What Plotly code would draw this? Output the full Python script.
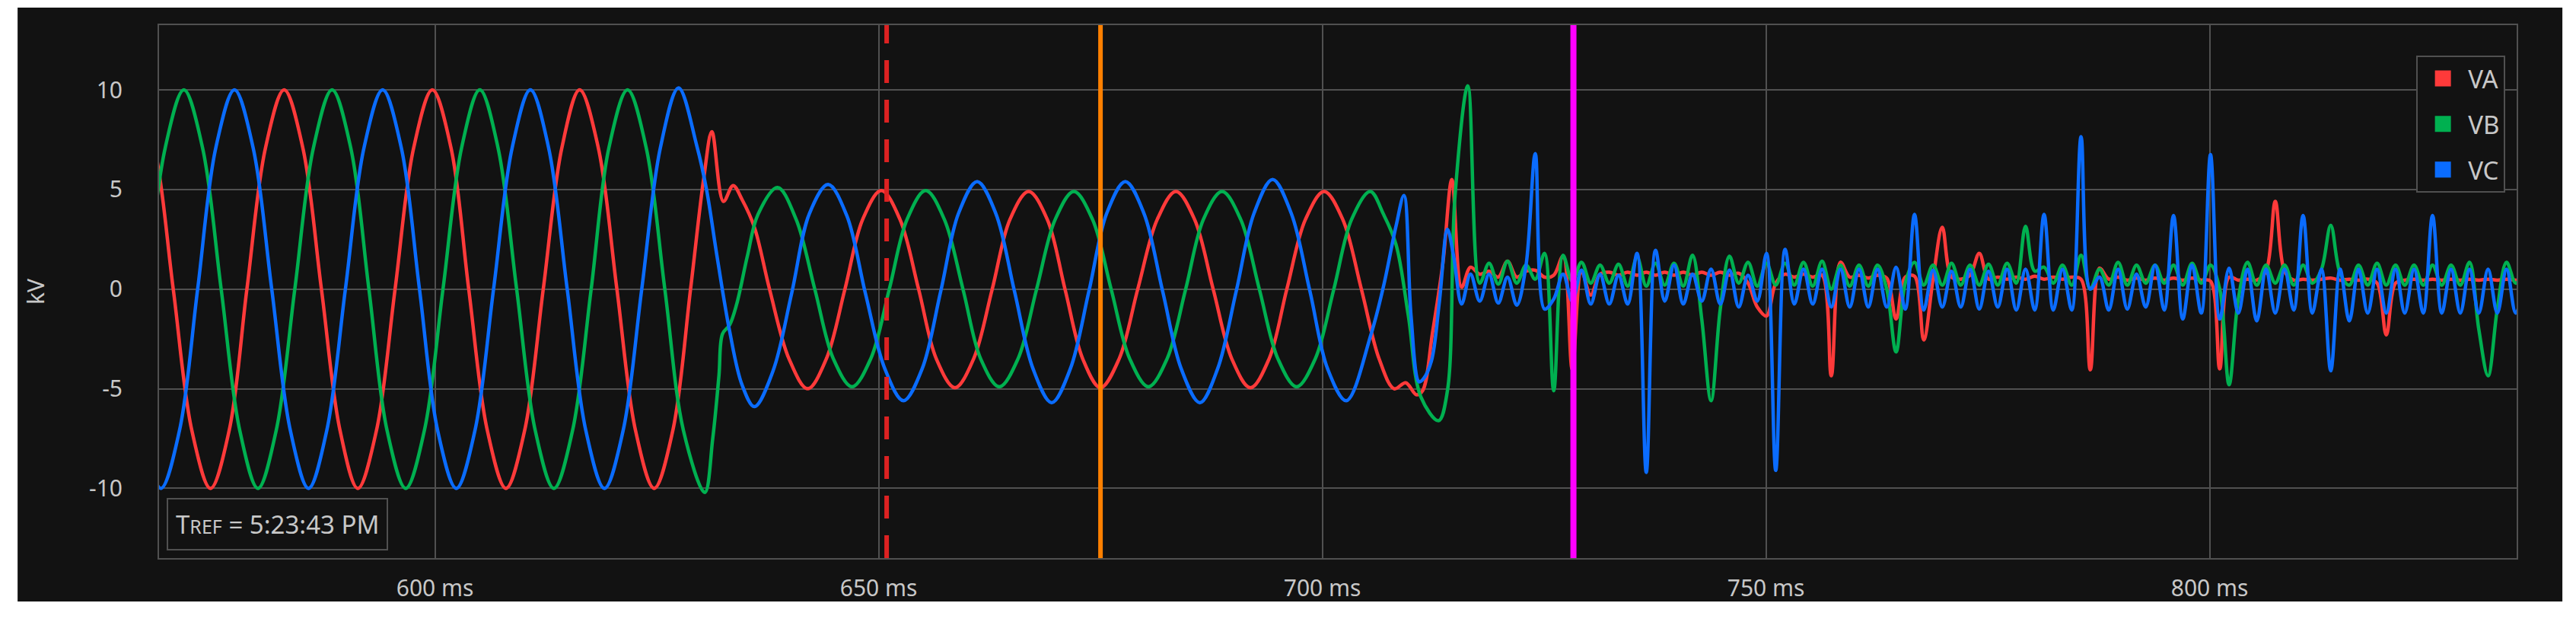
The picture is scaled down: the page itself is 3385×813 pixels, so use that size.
import plotly.graph_objects as go

# ---------------- data ----------------
# Phase A (VA) pre-fault, fault and transient samples: time (ms), value (kV)
va_pre_t = [566.3, 568.4, 570.5, 572.6, 574.7, 576.8, 578.8, 580.9, 583.0, 585.1, 587.2, 589.3, 591.3, 593.4,
            595.5, 597.6, 599.7, 601.8, 603.8, 605.9, 608.0, 610.1, 612.2, 614.3, 616.3, 618.4, 620.5, 622.6,
            624.7, 626.8, 628.8, 630.3, 631.2, 632.5, 633.6, 634.6, 636.0, 637.7, 639.9, 642.0, 644.1, 646.2,
            648.2, 650.3, 652.4, 654.5, 656.5, 658.6, 660.7, 662.8, 664.8, 666.9, 669.0, 671.0, 673.0, 675.0,
            677.1, 679.2, 681.4, 683.5, 685.6, 687.7, 689.8, 691.9, 694.0, 696.0, 698.1, 700.2, 702.3, 704.4,
            706.4, 708.1, 709.4, 710.6, 711.3, 712.4, 713.6, 714.6, 715.7]
va_pre_v = [10, 7.1, 0, -7.1, -10, -7.1, 0, 7.1, 10, 7.1, 0, -7.1, -10, -7.1,
            0, 7.1, 10, 7.1, 0, -7.1, -10, -7.1, 0, 7.1, 10, 7.1, 0, -7.1,
            -10, -7.1, 0, 5.6, 7.9, 4.4, 5.2, 4.5, 3.1, 0, -3.5, -5.0, -3.5, 0,
            3.5, 4.95, 3.5, 0, -3.5, -4.95, -3.5, 0, 3.5, 4.9, 3.5, 0, -3.5, -4.95,
            -3.5, 0, 3.5, 4.9, 3.5, 0, -3.5, -4.95, -3.5, 0, 3.5, 4.9, 3.5, 0,
            -3.5, -5.0, -4.7, -5.3, -5.1, -2.25, 1.35, 5.5, 0.1]

# Phase B (VB)
vb_pre_t = [567.55, 569.6, 571.7, 573.8, 575.9, 578.0, 580.05, 582.1, 584.2, 586.3, 588.4, 590.5, 592.55,
            594.6, 596.7, 598.8, 600.9, 603.0, 605.05, 607.1, 609.2, 611.3, 613.4, 615.5, 617.6, 619.6,
            621.7, 623.8, 625.9, 628.0, 630.4, 631.3, 632.0, 632.4, 633.2, 634.0, 635.2, 636.4, 638.6,
            640.7, 642.8, 644.9, 647.0, 649.1, 651.2, 653.2, 655.3, 657.4, 659.5, 661.5, 663.6, 665.7,
            667.8, 669.9, 672.0, 674.1, 676.2, 678.3, 680.4, 682.5, 684.6, 686.6, 688.7, 690.8, 692.9,
            695.0, 697.1, 699.2, 701.3, 703.3, 705.4, 706.9, 708.3, 709.7, 711.1, 713.1, 714.1, 714.95, 716.4]
vb_pre_v = [0, 7.1, 10, 7.1, 0, -7.1, -10, -7.1, 0, 7.1, 10, 7.1, 0,
            -7.1, -10, -7.1, 0, 7.1, 10, 7.1, 0, -7.1, -10, -7.1, 0, 7.1,
            10, 7.1, 0, -7.1, -10.2, -7.5, -4.35, -2.25, -1.8, -0.75, 1.65, 3.75, 5.1,
            3.5, 0, -3.5, -4.9, -3.5, 0, 3.5, 4.95, 3.5, 0, -3.5, -4.9, -3.5,
            0, 3.5, 4.9, 3.5, 0, -3.5, -4.9, -3.5, 0, 3.5, 4.9, 3.5, 0,
            -3.5, -4.9, -3.5, 0, 3.5, 4.9, 3.75, 2.25, -1.35, -5.4, -6.6, -5.1, 4.65, 10.2]

# Phase C (VC)
vc_pre_t = [567.0, 569.1, 571.2, 573.25, 575.3, 577.4, 579.5, 581.6, 583.7, 585.75, 587.8, 589.9, 592.0,
            594.1, 596.2, 598.25, 600.3, 602.4, 604.5, 606.6, 608.7, 610.75, 612.8, 614.9, 617.0, 619.1,
            621.2, 623.3, 625.4, 627.45, 629.5, 630.6, 631.8, 633.2, 634.6, 636.0, 638.1, 640.2, 642.2,
            644.3, 646.4, 648.5, 650.7, 652.8, 654.9, 657.0, 659.0, 661.1, 663.2, 665.3, 667.4, 669.5,
            671.6, 673.7, 675.7, 677.8, 679.9, 682.0, 684.1, 686.2, 688.2, 690.3, 692.3, 694.4, 696.5,
            698.6, 700.6, 702.7, 705.5, 706.9, 708.3, 709.2, 710.0, 710.9, 711.4, 712.3, 713.2, 714.1,
            714.8, 715.7]
vc_pre_v = [-7.1, -10, -7.1, 0, 7.1, 10, 7.1, 0, -7.1, -10, -7.1, 0, 7.1,
            10, 7.1, 0, -7.1, -10, -7.1, 0, 7.1, 10, 7.1, 0, -7.1, -10,
            -7.1, 0, 7.1, 10.1, 7.2, 5.0, 1.6, -2.1, -4.8, -5.9, -4.1, -0.2, 3.8,
            5.25, 3.7, -0.2, -4.0, -5.6, -4.0, -0.1, 3.8, 5.4, 3.8, -0.1, -4.0, -5.7,
            -4.0, -0.1, 3.8, 5.4, 3.8, -0.1, -4.0, -5.7, -4.0, -0.1, 3.8, 5.5, 3.8,
            -0.1, -4.0, -5.6, -2.25, 0.15, 3.15, 4.7, -1.35, -4.65, -4.5, -3.6, -0.6, 3.0,
            1.65, -0.75]

# Post-trip ripple sample instants (ms), shared by the three phases
t_post = [716.70, 717.74, 718.79, 719.83, 720.87, 721.91, 722.96, 724.00, 725.04, 726.08,
          727.13, 728.17, 729.21, 730.25, 731.30, 732.34, 733.38, 734.42, 735.47, 736.51,
          737.55, 738.59, 739.64, 740.68, 741.72, 742.76, 743.81, 744.85, 745.89, 746.93,
          747.98, 749.02, 750.06, 751.10, 752.15, 753.19, 754.23, 755.27, 756.32, 757.36,
          758.40, 759.44, 760.49, 761.53, 762.57, 763.61, 764.66, 765.70, 766.74, 767.78,
          768.83, 769.87, 770.91, 771.95, 773.00, 774.04, 775.08, 776.12, 777.17, 778.21,
          779.25, 780.29, 781.34, 782.38, 783.42, 784.46, 785.51, 786.55, 787.59, 788.63,
          789.68, 790.72, 791.76, 792.80, 793.85, 794.89, 795.93, 796.97, 798.02, 799.06,
          800.10, 801.14, 802.19, 803.23, 804.27, 805.31, 806.36, 807.40, 808.44, 809.48,
          810.53, 811.57, 812.61, 813.65, 814.70, 815.74, 816.78, 817.82, 818.87, 819.91,
          820.95, 821.99, 823.04, 824.08, 825.12, 826.16, 827.21, 828.25, 829.29, 830.33,
          831.38, 832.42, 833.46, 834.50, 835.55]

va_post = [1.1, 0.75, 0.9, 0.6, 1.4, 0.6, 0.9, 0.95, 0.6, 0.7,
           1.65, -4.05, 0.9, -0.3, 0.75, 0.85, 0.7, 0.85, 0.7, 0.85,
           0.7, 0.85, 0.7, 0.85, 0.7, 0.85, 0.7, 0.85, 0.7, 0.8,
           0.3, -0.9, -1.35, 0.3, 0.75, 0.6, 0.75, 0.6, 0.7, -4.35,
           1.35, 0.6, 0.7, 0.55, 0.7, 0.55, -1.5, 0.6, 0.65, -2.55,
           0.5, 3.1, 0.6, 0.5, 0.7, 1.8, 0.5, 0.6, 0.5, 0.6,
           0.5, 0.65, 0.5, 0.6, 0.5, 0.6, 0.5, -4.05, 1.05, 0.5,
           0.6, 0.45, 0.55, 0.45, 0.55, 0.45, 0.55, 0.45, 0.55, 0.45,
           0.4, -4.0, 0.6, 0.45, 0.5, 0.45, 0.9, 4.4, 0.9, 0.45,
           0.5, 0.45, 0.5, 0.55, 0.45, 0.5, 0.45, 0.5, 0.3, -2.3,
           0.3, 0.45, 0.5, 0.45, 0.5, 0.45, 0.5, 0.45, 0.5, 0.45,
           0.5, 0.45, 0.5, 0.45, 0.5]

# VB post values start at the second post sample (its spike peaks just before)
vb_post = [0.3, 1.3, 0.25, 1.4, 0.3, 1.2, 0.5, 1.8, -5.1,
           1.7, 0.4, 1.35, 0.3, 1.2, 0.3, 1.25, 0.15, 1.6, 0.15,
           1.3, 0.2, 1.3, 0.15, 1.7, -1.5, -5.6, -1.0, 1.65, 0.3,
           1.35, 0.15, 1.3, 0.2, 1.3, 0.2, 1.35, 0.15, 1.4, 0.0,
           1.2, 0.15, 1.2, 0.15, 1.2, 0.0, -3.15, 0.3, 1.35, 0.2,
           1.2, 0.2, 1.3, 0.2, 1.2, 0.2, 1.25, 0.2, 1.3, 0.3,
           3.15, 0.9, 1.1, 0.3, 1.2, 0.2, 1.7, 0.0, 1.0, 0.2,
           1.35, 0.2, 1.2, 0.3, 1.2, 0.3, 1.2, 0.2, 1.3, 0.3,
           1.2, 0.0, -4.8, -0.5, 1.35, 0.2, 1.2, 0.3, 1.2, 0.2,
           1.2, 0.3, 1.0, 3.2, 0.8, 0.2, 1.2, 0.2, 1.3, 0.2,
           1.2, 0.2, 1.2, 0.2, 1.2, 0.2, 1.2, 0.2, 1.35, -2.0,
           -4.35, -1.0, 1.35, 0.3, 1.2]

vc_post = [0.75, -0.6, 0.75, -0.7, 0.6, -0.8, 1.2, 6.8, -1.0, -0.5,
           0.75, -0.6, 0.95, -0.75, 0.75, -0.75, 0.7, -0.75, 1.8, -9.2,
           1.95, -0.6, 1.2, -0.75, 0.75, -0.6, 1.0, -0.75, 0.95, -0.9,
           0.7, -0.6, 1.8, -9.1, 2.0, -0.75, 1.0, -0.75, 1.0, -0.9,
           1.0, -0.9, 1.0, -0.9, 1.0, -0.9, 1.1, -1.0, 3.75, -1.05,
           0.95, -0.9, 0.9, -0.9, 1.0, -1.0, 0.9, -0.9, 1.0, -1.05,
           1.0, -1.05, 3.75, -1.05, 1.0, -1.05, 7.65, 0.0, 0.6, -1.05,
           1.0, -1.0, 0.75, -0.9, 1.2, -1.05, 3.7, -1.5, 1.2, -1.2,
           6.75, -1.5, 1.05, -1.2, 1.0, -1.6, 1.0, -1.2, 1.0, -1.05,
           3.7, -1.2, 1.0, -4.1, 1.0, -1.6, 1.0, -1.2, 1.0, -1.2,
           1.0, -1.2, 1.0, -1.2, 3.7, -1.2, 1.0, -1.2, 1.0, -1.2,
           1.0, -1.2, 1.0, -1.2, 0.5]

series_names = ["VA", "VB", "VC"]
series_colors = ["#ff3a3a", "#00b050", "#0a6cff"]

# Cursor markers (ms)
cursor_t = [650.9, 675.0, 728.3]
cursor_colors = ["#dd2222", "#ff8000", "#ff00ff"]

x_ticks = [600, 650, 700, 750, 800]
x_labels = ["600 ms", "650 ms", "700 ms", "750 ms", "800 ms"]
y_ticks = [-10, -5, 0, 5, 10]
y_labels = ["-10", "-5", "0", "5", "10"]

# ---------------- figure ----------------
GRID = "#505050"
TXT = "#c8c8c8"
BG = "#121212"

fig = go.Figure()

xs = [va_pre_t + t_post, vb_pre_t + t_post[1:], vc_pre_t + t_post]
ys = [va_pre_v + va_post, vb_pre_v + vb_post, vc_pre_v + vc_post]
for name, col, x, y in zip(series_names, series_colors, xs, ys):
    fig.add_trace(go.Scatter(x=x, y=y, mode="lines", name=name, showlegend=False,
                             line=dict(color=col, width=4.5, shape="spline", smoothing=1.0),
                             hoverinfo="skip"))

for name, col in zip(series_names, series_colors):
    fig.add_trace(go.Scatter(x=[None], y=[None], mode="markers", name=name, legendgroup=name,
                             marker=dict(symbol="square", size=16, color=col,
                                         line=dict(color=col, width=5))))

# dark card behind the chart
fig.add_shape(type="rect", xref="paper", yref="paper", x0=-0.0600, x1=1.0194, y0=-0.0814, y1=1.0329,
              fillcolor=BG, line=dict(width=0), layer="below")

dashes = ["30px,22px", "solid", "solid"]
widths = [6, 6, 8]
for t, col, d, w in zip(cursor_t, cursor_colors, dashes, widths):
    fig.add_shape(type="line", xref="x", yref="paper", x0=t, x1=t, y0=0, y1=1,
                  line=dict(color=col, width=w, dash=d), layer="above")

fig.add_annotation(xref="paper", yref="paper", x=0.0032, y=0.0143, xanchor="left", yanchor="bottom",
                   text="T<span style='font-size:25px'>REF</span> = 5:23:43 PM", showarrow=False,
                   bordercolor=GRID, borderwidth=2, borderpad=10, bgcolor=BG,
                   font=dict(size=33, color=TXT))

fig.update_layout(
    width=3385, height=813,
    margin=dict(l=209, r=78, t=33, b=80, pad=0),
    paper_bgcolor="white", plot_bgcolor=BG,
    font=dict(family="Segoe UI, Noto Sans, sans-serif", size=30, color=TXT),
    xaxis=dict(range=[568.9, 834.6], tickmode="array", tickvals=x_ticks, ticktext=x_labels,
               showgrid=True, gridcolor=GRID, gridwidth=2, zeroline=False,
               showline=True, linecolor=GRID, linewidth=2, mirror=True, ticks="",
               ticklabelstandoff=12, tickfont=dict(size=30, color=TXT)),
    yaxis=dict(range=[-13.5, 13.25], tickmode="array", tickvals=y_ticks, ticktext=y_labels,
               showgrid=True, gridcolor=GRID, gridwidth=2, zeroline=False,
               showline=True, linecolor=GRID, linewidth=2, mirror=True, ticks="",
               ticklabelstandoff=40, tickfont=dict(size=30, color=TXT),
               title=dict(text="kV", standoff=50, font=dict(size=30, color=TXT))),
    legend=dict(x=0.9952, xanchor="right", y=0.9429, yanchor="top", bgcolor=BG,
                bordercolor=GRID, borderwidth=2, font=dict(size=33, color=TXT),
                tracegroupgap=14, itemsizing="trace", itemwidth=56),
    showlegend=True,
)

fig.write_html("out.html", config={"displayModeBar": False},
               post_script="document.body.style.margin='0';document.body.style.overflow='hidden';")
